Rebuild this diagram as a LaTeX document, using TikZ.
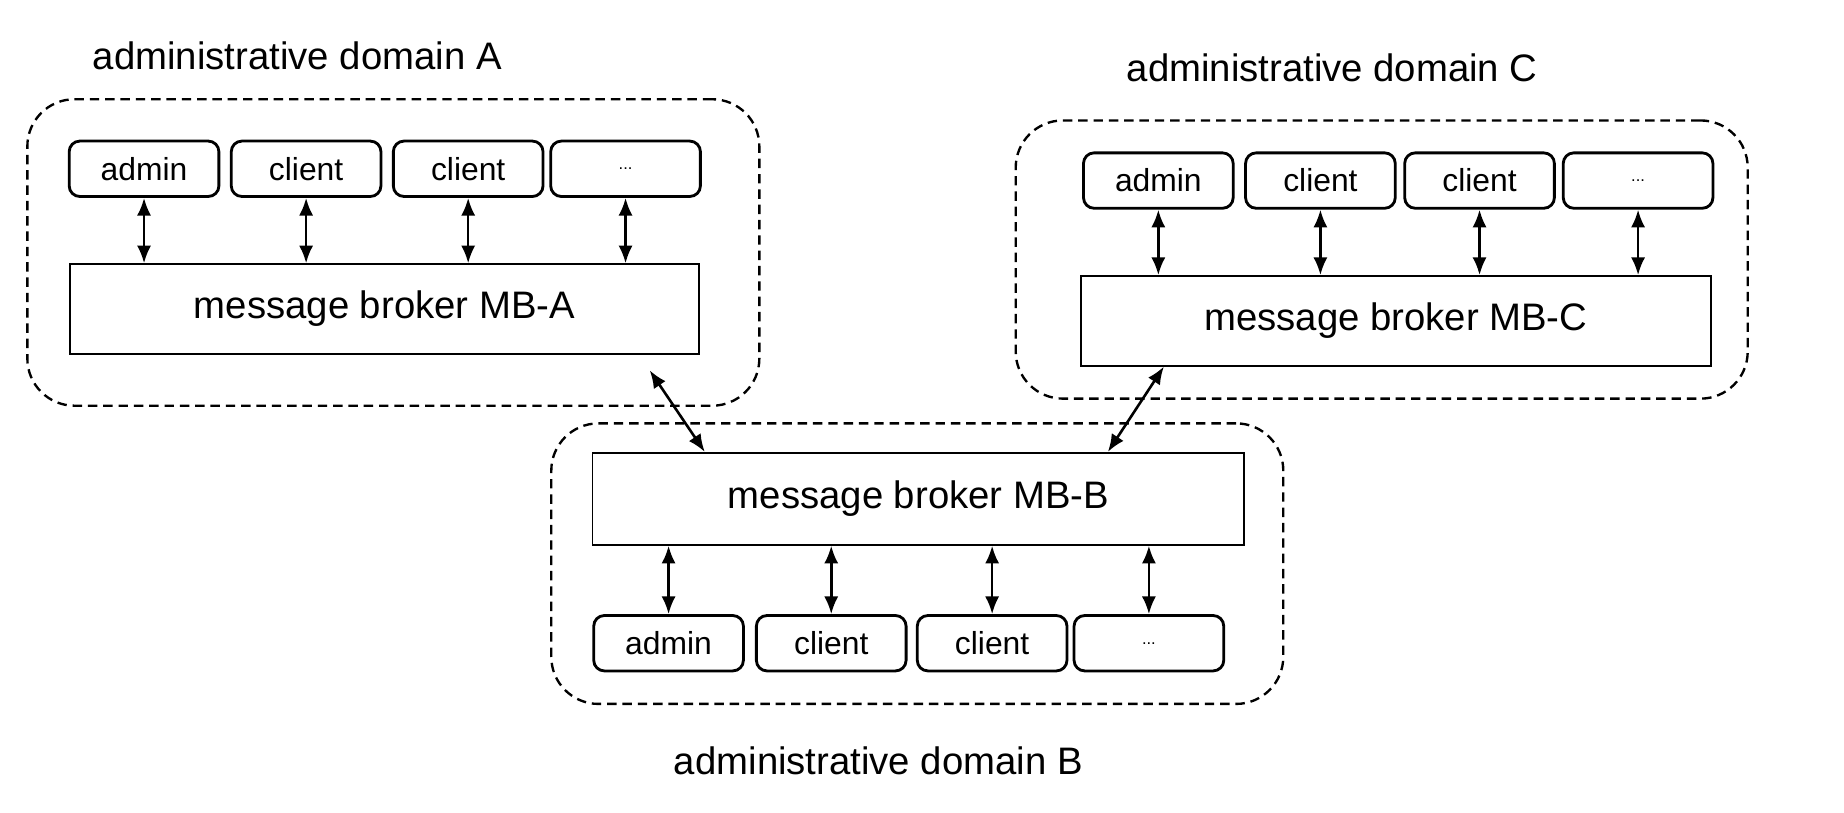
\documentclass[tikz,border=0pt]{standalone}
\usepackage{fontspec}
\setmainfont{Liberation Sans}
\usetikzlibrary{arrows.meta}
\newcommand{\bigtxt}{\fontsize{32.5}{38}\selectfont}
\newcommand{\smalltxt}{\fontsize{27}{32}\selectfont}
\tikzset{
  domainbox/.style={draw, dashed, dash pattern=on 8pt off 5pt, line width=2pt, rounded corners=40pt, inner sep=0pt},
  brokerbox/.style={draw, line width=1.6pt, inner sep=0pt, font=\bigtxt},
  clientbox/.style={draw, line width=2.4pt, rounded corners=9pt, minimum width=127pt, minimum height=47pt, inner sep=0pt, font=\smalltxt},
  domainlabel/.style={inner sep=0pt, font=\bigtxt},
  link/.style={line width=2.2pt, {Latex[length=15pt,width=12pt]}-{Latex[length=15pt,width=12pt]}}
}
\begin{document}
\begin{tikzpicture}[scale=1.000000,x=1pt,y=1pt]
\filldraw[color=white] (0.000000, 0.000000) rectangle (1564.000000, 689.000000);
% Drawing domains
% Line 1: domain A
\node[domainbox, minimum width=621pt, minimum height=260pt] (domA) at (333.500000, 475.000000) {};
\node[domainlabel] (labA) at (252.000000, 642.000000) {administrative domain A};
% Line 2: domain C
\node[domainbox, minimum width=621pt, minimum height=236pt] (domC) at (1172.000000, 469.000000) {};
\node[domainlabel] (labC) at (1130.000000, 632.000000) {administrative domain C};
% Line 3: domain B
\node[domainbox, minimum width=621pt, minimum height=238pt] (domB) at (778.000000, 211.000000) {};
\node[domainlabel] (labB) at (745.000000, 44.000000) {administrative domain B};
% Done with domains; drawing brokers
\node[brokerbox, minimum width=534pt, minimum height=76pt] (mbA) at (326.000000, 427.000000) {message broker MB-A};
\node[brokerbox, minimum width=534pt, minimum height=76pt] (mbC) at (1184.000000, 417.000000) {message broker MB-C};
\node[brokerbox, minimum width=553pt, minimum height=78pt] (mbB) at (779.000000, 266.000000) {message broker MB-B};
% Done with brokers; drawing clients
% Line 4: clients of A
\node[clientbox] (a1) at (122.000000, 546.000000) {admin};
\node[clientbox] (a2) at (259.500000, 546.000000) {client};
\node[clientbox] (a3) at (397.000000, 546.000000) {client};
\node[clientbox] (a4) at (530.500000, 546.000000) {\fontsize{14}{16}\selectfont ...};
% Line 5: clients of C
\node[clientbox] (c1) at (982.500000, 536.000000) {admin};
\node[clientbox] (c2) at (1120.000000, 536.000000) {client};
\node[clientbox] (c3) at (1255.000000, 536.000000) {client};
\node[clientbox] (c4) at (1389.500000, 536.000000) {\fontsize{14}{16}\selectfont ...};
% Line 6: clients of B
\node[clientbox] (b1) at (567.000000, 143.500000) {admin};
\node[clientbox] (b2) at (705.000000, 143.500000) {client};
\node[clientbox] (b3) at (841.500000, 143.500000) {client};
\node[clientbox] (b4) at (974.500000, 143.500000) {\fontsize{14}{16}\selectfont ...};
% Done with clients; drawing links
\draw[link] (a1.south) -- (a1.south |- mbA.north);
\draw[link] (a2.south) -- (a2.south |- mbA.north);
\draw[link] (a3.south) -- (a3.south |- mbA.north);
\draw[link] (a4.south) -- (a4.south |- mbA.north);
\draw[link] (c1.south) -- (c1.south |- mbC.north);
\draw[link] (c2.south) -- (c2.south |- mbC.north);
\draw[link] (c3.south) -- (c3.south |- mbC.north);
\draw[link] (c4.south) -- (c4.south |- mbC.north);
\draw[link] (b1.north) -- (b1.north |- mbB.south);
\draw[link] (b2.north) -- (b2.north |- mbB.south);
\draw[link] (b3.north) -- (b3.north |- mbB.south);
\draw[link] (b4.north) -- (b4.north |- mbB.south);
% Line 7: broker to broker
\coordinate (ab) at (551.000000, 375.000000);
\draw[link] (ab) -- ([xshift=96pt]mbB.north west);
\draw[link] ([xshift=71pt]mbC.south west) -- ([xshift=438pt]mbB.north west);
% Done with links
\end{tikzpicture}
\end{document}
